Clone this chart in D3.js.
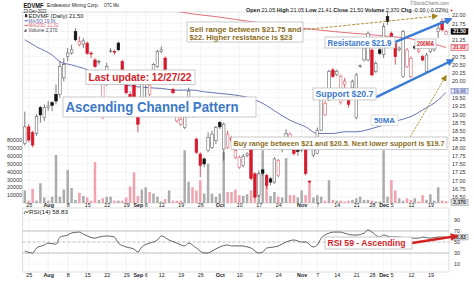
<!DOCTYPE html>
<html><head><meta charset="utf-8">
<script src="https://cdn.jsdelivr.net/npm/d3@7/dist/d3.min.js"></script>
<style>
html,body{margin:0;padding:0;background:#fff;}
svg{display:block;font-family:"Liberation Sans",Arial,Helvetica,sans-serif;}
</style></head><body>
<svg id="chart" width="474" height="282"></svg>
<script>
// ------------------------- DATA -------------------------
const firstDay = "2022-07-22", lastDay = "2022-12-23";
const holidays = ["2022-09-05", "2022-11-24"];

const openP = [18.12,18.62,18.45,18.42,19.20,18.90,19.20,19.35,19.60,19.60,
  20.10,20.75,20.85,21.50,21.10,21.12,21.15,20.85,20.64,20.58,
  18.95,19.90,20.90,20.90,21.15,20.60,19.95,19.60,19.90,18.95,
  19.10,19.95,19.60,19.95,20.45,20.90,20.70,20.15,19.75,18.80,
  18.70,18.60,18.95,19.00,18.25,17.80,17.65,17.90,18.00,18.20,
  18.75,17.95,18.00,18.30,17.70,17.40,17.45,17.75,17.95,17.20,
  16.55,17.32,17.15,17.05,16.95,17.15,17.95,18.27,18.22,17.92,
  17.90,17.90,18.22,16.98,17.77,17.82,18.52,18.98,19.43,20.34,
  20.20,19.35,19.90,19.45,19.80,18.90,20.45,20.64,20.64,20.94,
  20.30,20.95,20.80,21.95,21.45,21.14,20.95,20.14,20.44,20.14,
  21.05,20.90,20.74,20.29,20.90,20.94,21.50,21.80,21.41];
const highP = [19.08,18.70,18.50,19.00,19.25,19.30,19.40,19.40,19.90,20.60,
  20.70,21.00,21.10,21.60,21.35,21.30,21.20,20.90,20.70,20.65,
  20.05,20.55,21.00,20.95,21.20,20.65,20.00,19.70,19.95,19.00,
  20.00,20.00,19.95,20.55,20.95,21.05,20.75,20.30,19.80,19.00,
  18.95,19.35,19.80,19.05,18.30,17.85,17.70,18.45,18.50,18.65,
  18.80,18.75,18.50,18.35,17.95,17.75,17.80,17.85,18.00,17.25,
  17.30,17.35,17.20,17.10,17.70,17.65,18.05,18.55,18.45,17.95,
  17.95,18.05,18.25,17.00,18.20,18.60,19.65,19.40,20.35,20.40,
  20.35,20.20,20.10,19.50,20.05,20.25,20.50,21.10,21.50,21.00,
  20.60,21.00,21.75,22.10,21.50,21.20,21.05,21.55,21.00,20.75,
  21.10,21.00,20.80,20.85,21.05,21.20,21.75,21.90,21.55];
const lowP = [18.05,18.15,18.00,18.35,18.75,18.80,19.10,19.10,19.30,19.50,
  20.00,20.60,20.80,21.20,21.05,21.00,20.80,20.70,20.40,20.50,
  18.85,19.85,20.85,20.80,20.90,20.10,19.60,19.45,19.35,18.45,
  19.00,19.50,19.55,19.90,20.40,20.85,20.10,20.00,19.60,18.75,
  18.65,18.55,18.90,18.90,17.80,17.10,17.40,17.85,17.95,18.10,
  18.55,17.60,17.95,18.10,17.65,17.35,17.40,17.70,17.00,16.45,
  16.50,17.15,16.75,16.85,16.90,17.10,17.85,18.20,18.15,17.75,
  17.75,17.85,17.15,16.90,17.70,17.80,18.50,18.95,19.40,20.10,
  20.15,19.30,19.60,19.20,19.75,18.85,20.40,20.60,20.60,20.15,
  20.25,20.80,20.70,21.70,21.30,20.50,20.90,20.10,20.40,20.10,
  20.95,20.85,20.60,20.25,20.85,20.90,21.30,21.50,21.41];
const closeP = [18.62,18.22,18.07,18.93,18.98,19.20,19.25,19.27,19.40,20.44,
  20.50,20.85,20.95,21.25,21.20,21.22,20.84,20.82,20.44,20.60,
  19.95,20.45,20.92,20.88,20.95,20.15,19.65,19.50,19.40,18.70,
  19.90,19.92,19.88,20.50,20.90,20.95,20.15,20.20,19.65,18.95,
  18.85,19.30,19.70,18.95,17.85,17.45,17.50,18.30,18.40,18.60,
  18.62,18.70,18.40,18.20,17.90,17.70,17.72,17.80,17.06,16.50,
  17.20,17.22,16.85,16.95,17.65,17.60,17.98,18.42,18.40,17.82,
  17.88,18.00,17.21,16.95,18.12,18.52,19.53,19.33,20.29,20.14,
  20.30,20.15,20.00,19.30,20.00,20.19,20.48,21.00,21.45,20.19,
  20.54,20.84,21.65,21.80,21.34,20.74,21.00,21.50,20.94,20.69,
  21.00,20.95,20.64,20.79,21.00,21.14,21.60,21.55,21.50];
const volume = [16000,3000,18000,3000,25000,7000,3000,8000,61000,8000,
  17000,42000,19000,4000,13000,9000,7000,3000,52000,4000,
  6000,8000,8000,3000,3000,3000,7000,21000,39000,9000,
  17000,20000,14000,12000,8000,2000,5000,16000,3000,3000,
  3000,67000,27000,20000,16000,29000,12000,50000,12000,8000,
  12000,65000,14000,14000,17000,10000,9000,11000,16000,9000,
  38000,67000,33000,9000,14000,8000,7000,57000,10000,10000,
  7000,16000,10000,25000,7000,10000,8000,3000,29000,4000,
  3000,3000,2000,3000,4000,6000,8000,4000,4000,3000,
  2000,2000,67000,8000,29000,16000,6000,3000,6000,4000,
  6000,2000,10000,4000,11000,3000,20000,3000,2370];

const ma50Idx = [0,3,7,9,12,15,19,22,26,31,35,39,43,46,50,54,58,61,65,68,72,75,79,82,85,89,92,96,99,102,106,108];
const ma50Val = [21.25,21.04,20.79,20.59,20.49,20.39,20.19,20.03,19.88,19.81,19.78,19.73,19.73,19.68,19.63,19.58,19.48,19.33,19.03,18.82,18.62,18.42,18.42,18.47,18.47,18.57,18.67,18.82,18.93,19.13,19.43,19.66];
const ma200Idx = [37,42,49,58,67,75,84,92,101,108];
const ma200Val = [22.16,22.05,21.95,21.80,21.67,21.55,21.45,21.37,21.24,21.02];

const rsiIdx = [0,2,3,5,6,8,9,11,12,14,15,16,18,19,21,23,24,26,28,29,30,32,34,35,37,39,41,42,44,46,47,48,50,52,53,55,58,60,61,62,64,65,67,69,71,72,74,75,76,78,79,81,82,84,85,87,88,89,91,92,94,96,98,101,102,104,106,108];
const rsiVal = [33.6,30,39,44.5,48,46,59,62.7,66.4,68,64.5,61,57,59,61,59,48,41,37,32,41,48,53.6,61,53.6,48,42.7,48,39,30,30,33.6,41,44.5,42.7,43,39,30,31.8,39,41,42.7,50,53.6,50,50,41,44.5,57,66,68,68,66,62.7,62.7,66,72,68,59,62.7,59,59,57,57,59,57,59,58.83];

const priceTicks = [16.50,16.75,17.00,17.25,17.50,17.75,18.00,18.25,18.50,18.75,19.00,19.25,19.50,20.00,20.25,20.50,20.75,21.25,21.75,22.00];
const gridPrices = [16.50,16.75,17.00,17.25,17.50,17.75,18.00,18.25,18.50,18.75,19.00,19.25,19.50,19.75,20.00,20.25,20.50,20.75,21.00,21.25,21.50,21.75,22.00];
const volumeTicks = [10000,20000,30000,40000,50000,60000,70000,80000];
const rsiTicks = [10,30,50,70,90];
const dateTickDays = ["2022-07-25","2022-08-01","2022-08-08","2022-08-15","2022-08-22","2022-08-29","2022-09-01","2022-09-06","2022-09-12","2022-09-19","2022-09-26","2022-10-03","2022-10-10","2022-10-17","2022-10-24","2022-11-01","2022-11-07","2022-11-14","2022-11-21","2022-11-28","2022-12-01","2022-12-05","2022-12-12","2022-12-19"];
const dateTickLabels = ["25","Aug","8","15","22","29","Sep","6","12","19","26","Oct","10","17","24","Nov","7","14","21","28","Dec","5","12","19"];

// ------------------------- BUILD -------------------------
const parse = d3.utcParse("%Y-%m-%d"), fmt = d3.utcFormat("%Y-%m-%d");
const days = d3.utcDays(parse(firstDay), d3.utcDay.offset(parse(lastDay), 1))
  .filter(d => d.getUTCDay() % 6 !== 0 && !holidays.includes(fmt(d))).map(fmt);
const N = days.length;

const svg = d3.select("#chart");
const X0 = 22.5, X1 = 449, PY0 = 12, PY1 = 203, RY0 = 208, RY1 = 272;
const FX0 = 24.8, FX1 = 446;

const x = d3.scalePoint().domain(days).range([FX0, FX1]);
const xi = d3.scaleLinear().domain([0, N - 1]).range([FX0, FX1]);
const y = d3.scaleLinear().domain([16.5, 22]).range([197, 15]);
const yv = d3.scaleLinear().domain([0, 80000]).range([PY1, 140]);
const yr = d3.scaleLinear().domain([30, 70]).range([253, 231]);

const data = days.map((d, i) => ({ d, i, o: openP[i], h: highP[i], l: lowP[i], c: closeP[i], v: volume[i],
  up: i === 0 ? true : closeP[i] >= closeP[i - 1] }));

svg.append("rect").attr("width", 474).attr("height", 282).attr("fill", "#fff");
const defs = svg.append("defs");
defs.append("clipPath").attr("id", "clipMain").append("rect").attr("x", X0).attr("y", PY0).attr("width", X1 - X0).attr("height", PY1 - PY0);
defs.append("clipPath").attr("id", "clipRsi").append("rect").attr("x", X0).attr("y", RY0).attr("width", X1 - X0).attr("height", RY1 - RY0);
function marker(id, color, size) {
  defs.append("marker").attr("id", id).attr("viewBox", "0 0 10 10").attr("refX", 8).attr("refY", 5)
    .attr("markerWidth", size).attr("markerHeight", size).attr("orient", "auto").attr("markerUnits", "strokeWidth")
    .append("path").attr("d", "M0,0 L10,5 L0,10 z").attr("fill", color);
}
marker("mBlue", "#3a7bd5", 3.2);
marker("mRed", "#d42121", 3.2);
marker("mOlive", "#a2841f", 7);

// grid
const grid = svg.append("g");
grid.selectAll(".hg").data(gridPrices).join("line")
  .attr("x1", X0).attr("x2", X1).attr("y1", d => y(d)).attr("y2", d => y(d)).attr("stroke", "#efefef").attr("stroke-width", 0.6);
grid.selectAll(".vg").data(dateTickDays).join("line")
  .attr("x1", d => x(d)).attr("x2", d => x(d)).attr("y1", PY0).attr("y2", PY1).attr("stroke", "#ebebeb").attr("stroke-width", 0.6);
grid.selectAll(".vgr").data(dateTickDays).join("line")
  .attr("x1", d => x(d)).attr("x2", d => x(d)).attr("y1", RY0).attr("y2", RY1).attr("stroke", "#ebebeb").attr("stroke-width", 0.6);
grid.selectAll(".rg").data(rsiTicks).join("line")
  .attr("x1", X0).attr("x2", X1).attr("y1", d => yr(d)).attr("y2", d => yr(d)).attr("stroke", "#f0f0f0").attr("stroke-width", 0.6);

// panels borders
svg.append("rect").attr("x", X0).attr("y", PY0).attr("width", X1 - X0).attr("height", PY1 - PY0).attr("fill", "none").attr("stroke", "#c8c8c8").attr("stroke-width", 0.6);
svg.append("rect").attr("x", X0).attr("y", RY0).attr("width", X1 - X0).attr("height", RY1 - RY0).attr("fill", "none").attr("stroke", "#c8c8c8").attr("stroke-width", 0.6);

const main = svg.append("g").attr("clip-path", "url(#clipMain)");

// volume
main.selectAll(".vol").data(data).join("rect")
  .attr("x", d => x(d.d) - 1.25).attr("width", 2.5)
  .attr("y", d => yv(d.v)).attr("height", d => PY1 - yv(d.v))
  .attr("fill", d => d.up ? "#acacac" : "#f1a2ac");

// moving averages
const lineGen = d3.line().x(p => xi(p[0])).y(p => y(p[1])).curve(d3.curveMonotoneX);
main.append("path").attr("d", lineGen(ma50Idx.map((k, j) => [k, ma50Val[j]])))
  .attr("fill", "none").attr("stroke", "#5864ac").attr("stroke-width", 0.9);
main.append("path").attr("d", lineGen(ma200Idx.map((k, j) => [k, ma200Val[j]])))
  .attr("fill", "none").attr("stroke", "#e0606e").attr("stroke-width", 0.9);

// candles
const RED = "#d8182b";
const cg = main.selectAll(".cdl").data(data).join("g");
cg.append("line").attr("x1", d => x(d.d)).attr("x2", d => x(d.d))
  .attr("y1", d => y(d.h)).attr("y2", d => y(d.l))
  .attr("stroke", d => d.up ? "#444" : RED).attr("stroke-width", 0.7);
cg.append("rect").attr("x", d => x(d.d) - 1.3).attr("width", 2.6)
  .attr("y", d => y(Math.max(d.o, d.c)))
  .attr("height", d => Math.max(0.8, Math.abs(y(d.o) - y(d.c))))
  .attr("fill", d => d.c >= d.o ? "#fff" : (d.up ? "#111" : RED))
  .attr("stroke", d => d.up ? (d.c >= d.o ? "#666" : "#111") : (d.c >= d.o ? "#e26675" : RED))
  .attr("stroke-width", 0.6);

// axes
function styleAxis(g, size) {
  g.select(".domain").remove();
  g.attr("font-family", null).attr("font-size", size);
  g.selectAll("text").attr("fill", "#333");
}
svg.append("g").attr("transform", `translate(${X1},0)`)
  .call(d3.axisRight(y).tickValues(priceTicks).tickSize(0).tickPadding(3).tickFormat(d3.format(".2f")))
  .call(g => styleAxis(g, 5.4));
svg.append("g").attr("transform", `translate(${X0},0)`)
  .call(d3.axisLeft(yv).tickValues(volumeTicks).tickSize(0).tickPadding(0.5).tickFormat(d3.format("d")))
  .call(g => styleAxis(g, 5.4));
const dateFmt = d => dateTickLabels[dateTickDays.indexOf(d)];
function dateAxis(yPos, pad) {
  svg.append("g").attr("transform", `translate(0,${yPos})`)
    .call(d3.axisBottom(x).tickValues(dateTickDays).tickSize(0).tickPadding(pad).tickFormat(dateFmt))
    .call(g => styleAxis(g, 5.4))
    .call(g => g.selectAll("text").attr("font-weight", d => isNaN(+dateFmt(d)) ? "bold" : null).attr("fill", "#222"));
}
dateAxis(PY1, 0.2);
dateAxis(RY1, 1.6);
svg.append("g").attr("transform", `translate(${X1},0)`)
  .call(d3.axisRight(yr).tickValues(rsiTicks).tickSize(0).tickPadding(5))
  .call(g => styleAxis(g, 5.4));

// RSI panel
const rg = svg.append("g").attr("clip-path", "url(#clipRsi)");
[70, 30].forEach(v => rg.append("line").attr("x1", X0).attr("x2", X1).attr("y1", yr(v)).attr("y2", yr(v)).attr("stroke", "#9a9a9a").attr("stroke-width", 0.6));
rg.append("line").attr("x1", X0).attr("x2", X1).attr("y1", yr(50)).attr("y2", yr(50)).attr("stroke", "#a0a0a0").attr("stroke-width", 0.6).attr("stroke-dasharray", "3,2");
rg.append("path").attr("d", d3.line().x(p => xi(p[0])).y(p => yr(p[1])).curve(d3.curveMonotoneX)(rsiIdx.map((k, j) => [k, rsiVal[j]])))
  .attr("fill", "none").attr("stroke", "#505050").attr("stroke-width", 0.9);

// right axis value flags
function flag(cy, txt, fill, stroke, color) {
  svg.append("rect").attr("x", 451).attr("y", cy - 2.8).attr("width", 17).attr("height", 5.6).attr("fill", fill).attr("stroke", stroke).attr("stroke-width", 0.5);
  svg.append("text").attr("x", 459.5).attr("y", cy + 1.8).attr("text-anchor", "middle").attr("font-size", 5).attr("fill", color).attr("font-weight", "bold").text(txt);
}
flag(y(21.50), "21.50", "#111", "#111", "#fff");
flag(y(21.02), "21.02", "#fbe3e6", "#d8182b", "#d8182b");
flag(y(19.70), "19.66", "#e3e8f8", "#5864ac", "#5864ac");
flag(202.5, "2,370", "#dcdcdc", "#888", "#333");
flag(yr(58.83), "58.83", "#e6e6e6", "#888", "#333");

// headers
function txt(xp, yp, s, size, opts = {}) {
  const t = svg.append("text").attr("x", xp).attr("y", yp).attr("font-size", size).attr("fill", opts.fill || "#222").text(s);
  if (opts.weight) t.attr("font-weight", opts.weight);
  if (opts.anchor) t.attr("text-anchor", opts.anchor);
  if (opts.len) t.attr("textLength", opts.len).attr("lengthAdjust", "spacingAndGlyphs");
  return t;
}
txt(23.5, 7.5, "EDVMF", 7, { weight: "bold", fill: "#111", len: 20 });
txt(47, 7.2, "Endeavour Mining Corp.", 5.4, { len: 52 });
txt(104, 7.2, "OTC Mkt", 5.4, { len: 15 });
txt(23.5, 12.8, "23-Dec-2022", 5.2, { len: 23 });
svg.append("rect").attr("x", 25).attr("y", 14.2).attr("width", 2.2).attr("height", 3).attr("fill", "#222");
txt(28.5, 18, "EDVMF (Daily) 21.50", 5.2, { len: 55 });
svg.append("line").attr("x1", 24.5).attr("x2", 28).attr("y1", 20.8).attr("y2", 20.8).attr("stroke", "#5864ac").attr("stroke-width", 1);
txt(28.5, 22.6, "MA(50) 19.66", 5.2, { fill: "#5864ac", len: 27 });
svg.append("line").attr("x1", 24.5).attr("x2", 28).attr("y1", 25.4).attr("y2", 25.4).attr("stroke", "#e0606e").attr("stroke-width", 1);
txt(28.5, 27.2, "MA(200) 21.02", 5.2, { fill: "#e0606e", len: 30 });
svg.append("path").attr("d", "M24.5,32 v-2 h1 v-1 h1 v3 z").attr("fill", "#666");
txt(28.5, 31.8, "Volume 2,370", 5.2, { fill: "#444", len: 29 });
txt(449, 5, "\u00A9StockCharts.com", 5, { anchor: "end", fill: "#777", len: 39 });
const hdr = svg.append("text").attr("x", 246).attr("y", 11.5).attr("font-size", 5.3).attr("fill", "#222")
  .attr("textLength", 202).attr("lengthAdjust", "spacingAndGlyphs");
[["Open", 1], [" 21.05  ", 0], ["High", 1], [" 21.05  ", 0], ["Low", 1], [" 21.41  ", 0], ["Close", 1], [" 21.50  ", 0], ["Volume", 1], [" 2,370  ", 0], ["Chg", 1], [" -0.00 (-0.02%)", 0]]
  .forEach(([s, b]) => hdr.append("tspan").attr("font-weight", b ? "bold" : null).text(s));
txt(449.5, 11.5, "\u25BC", 4, { fill: "#d8182b" });

// RSI legend
svg.append("path").attr("d", "M24,214 l1.5,-3 l1.5,2 l1.5,-2.5").attr("fill", "none").attr("stroke", "#333").attr("stroke-width", 0.7);
txt(29, 214, "RSI(14) 58.83", 5.2, { len: 39 });

// annotations
function box(x0, y0, w, h, stroke) {
  svg.append("rect").attr("x", x0).attr("y", y0).attr("width", w).attr("height", h)
    .attr("fill", "#fff").attr("stroke", stroke || "#bdbdbd").attr("stroke-width", 0.8);
}
function arrow(p0, p1, color, width, mk, dash) {
  const l = svg.append("line").attr("x1", p0[0]).attr("y1", p0[1]).attr("x2", p1[0]).attr("y2", p1[1])
    .attr("stroke", color).attr("stroke-width", width).attr("marker-end", `url(#${mk})`);
  if (dash) l.attr("stroke-dasharray", dash);
}
const OLIVE = "#8a6c1c", BLUE = "#3b78c8", ARED = "#d21f2b";

// sell range
arrow([xi(71.3), y(21.55)], [xi(105.7), y(21.97)], "#a2841f", 0.9, "mOlive", "3,1.5");
box(187, 22, 116, 20);
txt(189.5, 32.3, "Sell range between $21.75 and", 8, { weight: "bold", fill: OLIVE, len: 112 });
txt(189.5, 40.3, "$22. Higher resistance is $23", 8, { weight: "bold", fill: OLIVE, len: 103 });

// channel arrows
arrow([xi(94.9), y(21.18)], [xi(109.3), y(21.88)], "#3a7bd5", 2.4, "mBlue");
arrow([xi(90.1), y(19.52)], [xi(109.8), y(20.64)], "#3a7bd5", 2.4, "mBlue");
box(325, 37, 70, 11);
txt(327.5, 45.6, "Resistance $21.9", 8.2, { weight: "bold", fill: BLUE, len: 64 });
box(313, 88, 63, 12);
txt(315.5, 97.4, "Support $20.7", 8.6, { fill: BLUE, len: 58, weight: "bold" });
box(415, 39, 21, 9.5);
txt(417, 46.4, "200MA", 6.6, { weight: "bold", fill: ARED, len: 17 });
box(371, 115, 27, 10.5, "#d8d8d8");
txt(374, 123, "50MA", 7.2, { weight: "bold", fill: BLUE, len: 21 });

// last update & pattern
box(86, 70, 109, 14.5);
txt(88.5, 81.3, "Last update: 12/27/22", 11, { weight: "bold", fill: ARED, len: 103 });
box(63, 97, 193, 20);
txt(65.5, 112.3, "Ascending Channel Pattern", 14, { weight: "bold", fill: BLUE, len: 173 });

// buy range
arrow([xi(98.8), y(18.31)], [xi(108), y(20.16)], "#a2841f", 0.9, "mOlive", "2,1.2");
box(231, 137, 216, 12.5);
txt(233.5, 146.3, "Buy range between $21 and $20.5. Next lower support is $19.7", 7.2, { weight: "bold", fill: OLIVE, len: 211 });

// RSI annotation
arrow([xi(99.3), yr(48.2)], [xi(110.8), yr(60.9)], "#d42121", 2.4, "mRed");
box(325, 237, 87, 12);
txt(327.5, 246.3, "RSI 59 - Ascending", 9, { weight: "bold", fill: ARED, len: 78 });
</script>
</body></html>
